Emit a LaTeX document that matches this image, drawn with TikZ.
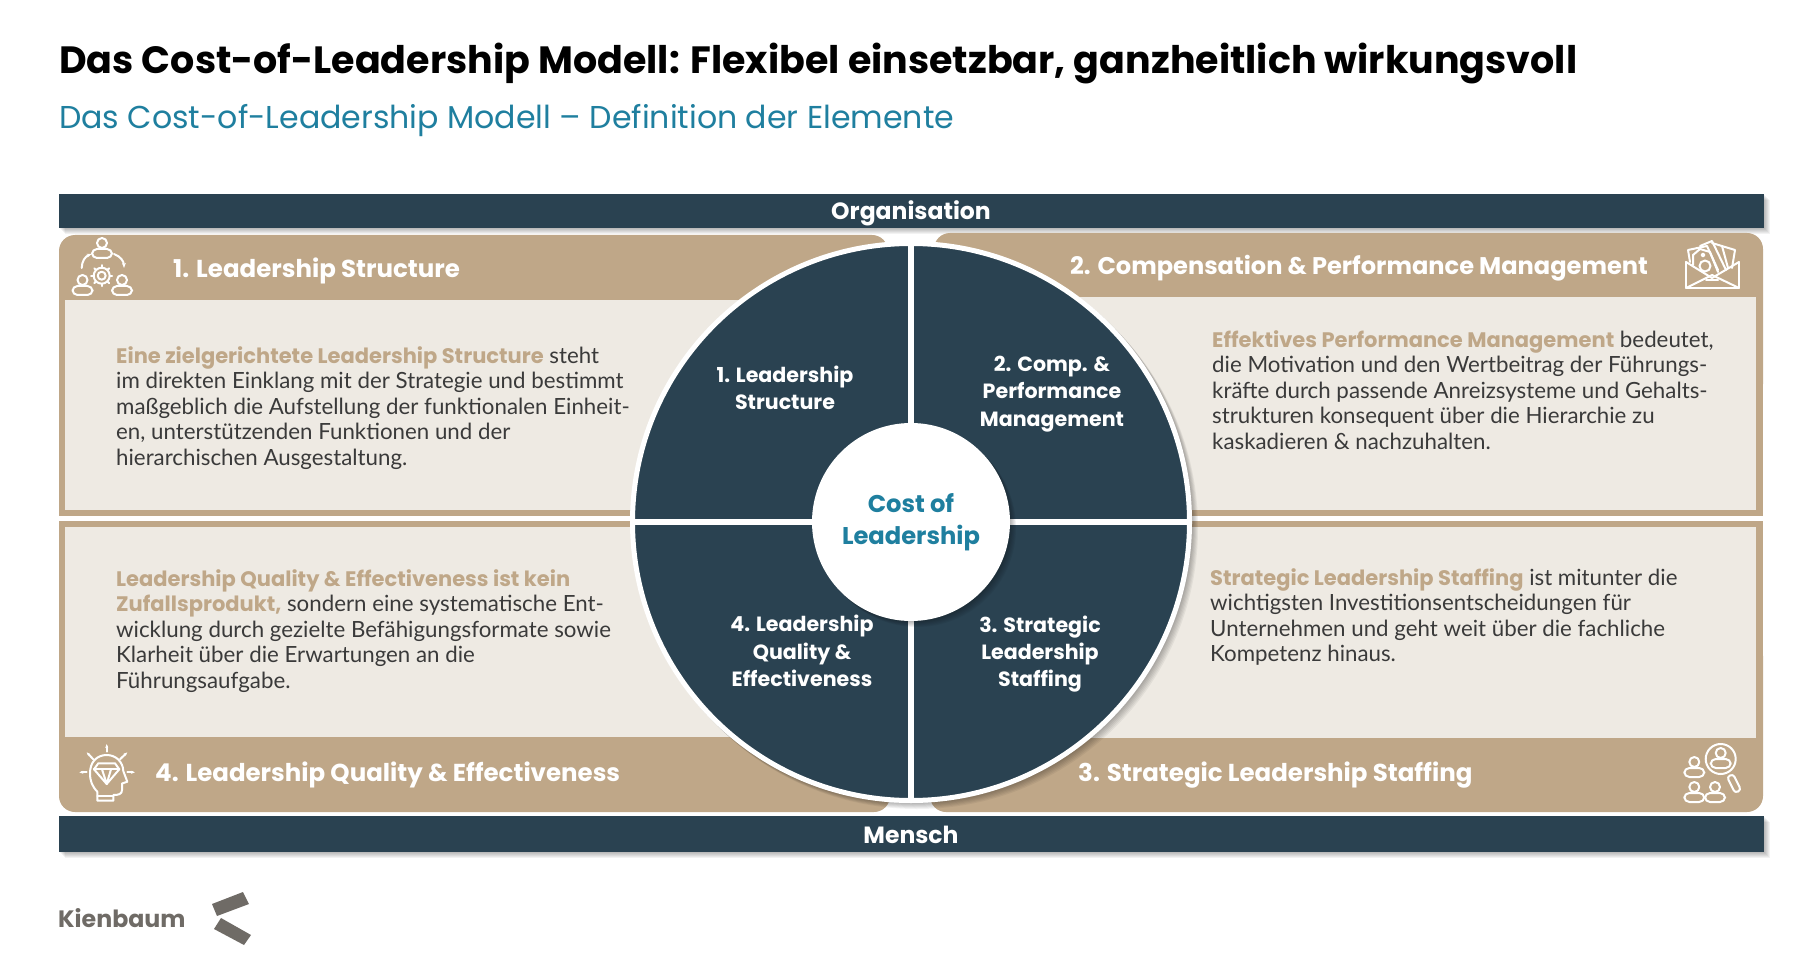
\documentclass[tikz,border=0pt]{standalone}
\usepackage{fontspec}
\setmainfont{Lato}
\newfontfamily\headfont{Poppins}
\usetikzlibrary{arrows.meta}
\definecolor{cnavy}{HTML}{2A4251}
\definecolor{ctan}{HTML}{BFA788}
\definecolor{ccream}{HTML}{EEEAE3}
\definecolor{cteal}{HTML}{1F7F9F}
\definecolor{cbody}{HTML}{3A3A3A}
\definecolor{cgrey}{HTML}{6F6B66}
\newcommand{\hl}[1]{\textcolor{ctan}{\headfont\bfseries\fontsize{21}{25.5}\selectfont #1}}
\newcommand{\softshadow}[1]{\foreach \d in {1,2,...,6} {\fill[black,opacity=0.05,xshift=\d pt,yshift=-\d pt] #1;}}
\tikzset{
  x=1pt,y=-1pt,
  barlabel/.style={text=white,font=\headfont\bfseries\fontsize{23.5}{28}\selectfont},
  headlabel/.style={anchor=west,inner sep=0pt,text=white,font=\headfont\bfseries\fontsize{24.5}{29}\selectfont},
  bodytext/.style={anchor=west,inner sep=0pt,align=left,text=cbody,font=\fontsize{22.3}{25.5}\selectfont},
  sectorlabel/.style={align=center,text=white,font=\headfont\bfseries\fontsize{20.6}{27.3}\selectfont},
  iconline/.style={draw=white,line width=2pt,line join=round,line cap=round},
  personicon/.pic={
    \draw[iconline] (0,-9) circle (5);
    \draw[iconline,rounded corners=5] (-10,6) -- (-10,-3) -- (10,-3) -- (10,6) -- cycle;
  }
}
\begin{document}
\begin{tikzpicture}
\useasboundingbox (0,0) rectangle (1818,968);

\node[anchor=base west,inner sep=0pt,text=black,font=\headfont\bfseries\fontsize{38}{45}\selectfont] (title) at (59,74) {Das Cost-of-Leadership Modell: Flexibel einsetzbar, ganzheitlich wirkungsvoll};
\node[anchor=base west,inner sep=0pt,text=cteal,font=\headfont\fontsize{31.6}{38}\selectfont] (subtitle) at (59,129) {Das Cost-of-Leadership Modell – Definition der Elemente};

\softshadow{(59,194) rectangle (1764,228)}
\softshadow{(59,816) rectangle (1764,852)}
\fill[cnavy] (59,194) rectangle (1764,228);
\fill[cnavy] (59,816) rectangle (1764,852);
\node[barlabel] (orga) at (911,213) {Organisation};
\node[barlabel] (mensch) at (911,835) {Mensch};

\fill[ctan,rounded corners=16] (59,400) -- (59,235) -- (888,235) -- (888,400) -- cycle;
\fill[ctan,rounded corners=16] (934,400) -- (934,233) -- (1763,233) -- (1763,400) -- cycle;
\fill[ctan,rounded corners=16] (59,640) -- (59,812) -- (890,812) -- (890,640) -- cycle;
\fill[ctan,rounded corners=16] (930,640) -- (930,812) -- (1763,812) -- (1763,640) -- cycle;
\fill[ctan] (59,300) rectangle (888,516);
\fill[ctan] (934,300) rectangle (1763,516);
\fill[ctan] (59,521) rectangle (890,740);
\fill[ctan] (930,521) rectangle (1763,740);
\fill[ccream] (65,300) rectangle (800,510);
\fill[ccream] (1000,297) rectangle (1756,510);
\fill[ccream] (65,527) rectangle (800,737);
\fill[ccream] (1000,527) rectangle (1756,738);

\node[headlabel] (head1) at (173,271) {1. Leadership Structure};
\node[headlabel,font=\headfont\bfseries\fontsize{24.1}{29}\selectfont] (head2) at (1070,268) {2. Compensation \& Performance Management};
\node[headlabel] (head3) at (1078,775) {3. Strategic Leadership Staffing};
\node[headlabel] (head4) at (155,775) {4. Leadership Quality \& Effectiveness};

\node[bodytext] (text1) at (116,408) {\hl{Eine zielgerichtete Leadership Structure} steht\\im direkten Einklang mit der Strategie und bestimmt\\maßgeblich die Aufstellung der funktionalen Einheit-\\en, unterstützenden Funktionen und der\\hierarchischen Ausgestaltung.};
\node[bodytext] (text2) at (1212,390) {\hl{Effektives Performance Management} bedeutet,\\die Motivation und den Wertbeitrag der Führungs-\\kräfte durch passende Anreizsysteme und Gehalts-\\strukturen konsequent über die Hierarchie zu\\kaskadieren \& nachzuhalten.};
\node[bodytext] (text3) at (1210,617) {\hl{Strategic Leadership Staffing} ist mitunter die\\wichtigsten Investitionsentscheidungen für\\Unternehmen und geht weit über die fachliche\\Kompetenz hinaus.};
\node[bodytext] (text4) at (116,631) {\hl{Leadership Quality \& Effectiveness ist kein}\\\hl{Zufallsprodukt,} sondern eine systematische Ent-\\wicklung durch gezielte Befähigungsformate sowie\\Klarheit über die Erwartungen an die\\Führungsaufgabe.};

\softshadow{(911,522) circle (281)}
\node[circle,fill=cnavy,draw=white,line width=5pt,inner sep=0pt,outer sep=0pt,minimum size=557pt] (wheel) at (911,522) {};
\draw[white,line width=6pt] (wheel.north) -- (wheel.south);
\draw[white,line width=6pt] (wheel.west) -- (wheel.east);
\softshadow{(911,522) circle (99)}
\node[circle,fill=white,inner sep=0pt,minimum size=198pt,align=center,text=cteal,font=\headfont\bfseries\fontsize{24.2}{32}\selectfont] (hub) at (911,522) {Cost of\\Leadership};

\node[sectorlabel] (sector1) at (785,388) {1. Leadership\\Structure};
\node[sectorlabel] (sector2) at (1052,394) {2. Comp. \&\\Performance\\Management};
\node[sectorlabel] (sector3) at (1040,654) {3. Strategic\\Leadership\\Staffing};
\node[sectorlabel] (sector4) at (802,651) {4. Leadership\\Quality \&\\Effectiveness};

\pic at (102,252) {personicon};
\pic at (82.5,289) {personicon};
\pic at (122,289) {personicon};
\draw[iconline] (101.7,275.7) circle (4);
\draw[iconline] (101.7,275.7) circle (8);
\foreach \a in {0,45,...,315} \draw[iconline] (101.7,275.7) ++(\a:8) -- ++(\a:2.5);
\draw[iconline,-{Stealth[length=5pt]}] (81.7,268) to[bend left=35] (91.7,254);
\draw[iconline,-{Stealth[length=5pt]}] (114,254) to[bend left=35] (124,268);

\draw[iconline] (1686,262) -- (1686,288) -- (1739,288) -- (1739,262);
\draw[iconline] (1686,288) -- (1712,275) -- (1739,288);
\draw[iconline] (1686,262) -- (1712,278) -- (1739,262);
\draw[iconline] (1706,280) -- (1718,280);
\draw[iconline] (1690,262) -- (1688,250) -- (1707,246) -- (1718,270);
\draw[iconline] (1693,265) -- (1693,255) -- (1700,249) -- (1710,252) -- (1718,272);
\draw[iconline] (1700,246) -- (1712,241) -- (1726,270);
\draw[iconline] (1712,243) -- (1735,250) -- (1732,268);
\draw[iconline] (1722,246) -- (1728,268);
\draw[iconline] (1705,266) circle (5.5);
\draw[iconline] (1703,255) circle (1.5);

\pic at (1694.3,771) {personicon};
\pic at (1694.3,796) {personicon};
\pic at (1715,796) {personicon};
\draw[iconline] (1720.7,759) circle (15);
\pic at (1720.7,762) {personicon};
\draw[iconline,rounded corners=3] (1727,777) -- (1733,774) -- (1741,790) -- (1735,793) -- cycle;

\draw[iconline,-{Stealth[length=4pt]}] (106.7,751.7) -- (106.7,744);
\draw[iconline,-{Stealth[length=4pt]}] (86.7,772.3) -- (79.3,772.3);
\draw[iconline,-{Stealth[length=4pt]}] (127.3,772.3) -- (135,772.3);
\draw[iconline,-{Stealth[length=4pt]}] (93.3,759.3) -- (86.7,752.3);
\draw[iconline,-{Stealth[length=4pt]}] (120,759.3) -- (127.3,752.3);
\draw[iconline] (97.3,800.7) -- (97.3,791.7) .. controls (92,786) and (90,781) .. (90,773) .. controls (90,762) and (97,755) .. (106.7,755) .. controls (116,755) and (123,762) .. (123.3,771) -- (127.3,781.7) -- (122,783.5) -- (122,790) .. controls (122,794) and (119,795) .. (113.3,795) -- (113.3,800.7) -- cycle;
\draw[iconline] (97.3,796) -- (113.3,796);
\draw[iconline] (94,769.3) -- (98.3,763.3) -- (115,763.3) -- (119.3,769.3) -- (106.7,784) -- cycle;
\draw[iconline] (94,769.3) -- (119.3,769.3);
\draw[iconline] (102,769.3) -- (106.7,784) -- (111,769.3);

\node[anchor=base west,inner sep=0pt,text=cgrey,font=\headfont\bfseries\fontsize{23.7}{30}\selectfont] (brand) at (58,927) {Kienbaum};
\fill[cgrey] (212,904) -- (243,892) -- (249,904) -- (217,916) -- cycle;
\fill[cgrey] (214,929) -- (221,918) -- (251,935) -- (244,945) -- cycle;
\end{tikzpicture}
\end{document}
